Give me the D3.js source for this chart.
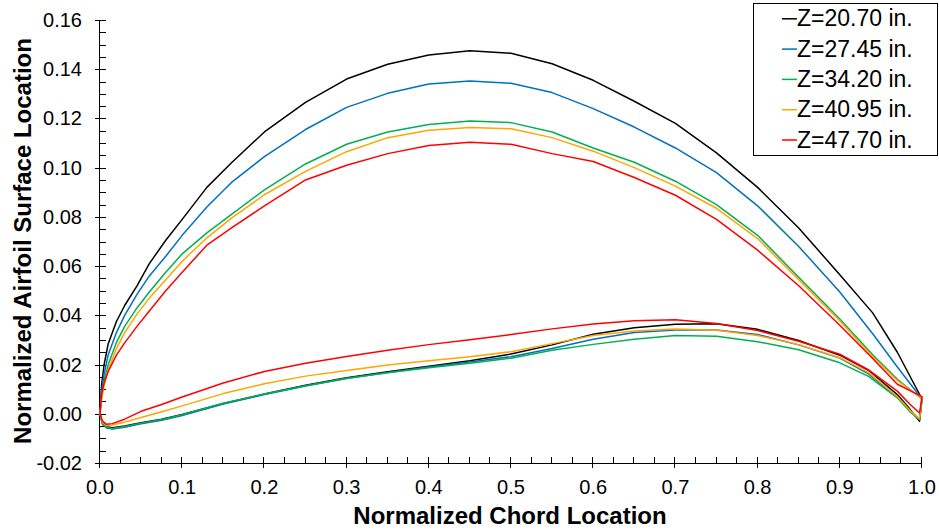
<!DOCTYPE html>
<html>
<head>
<meta charset="utf-8">
<script src="https://cdn.jsdelivr.net/npm/d3@7"></script>
<style>
  html, body { margin: 0; padding: 0; background: #fff; }
  svg { display: block; font-family: "Liberation Sans", Arial, sans-serif; }
</style>
</head>
<body>
<svg id="chart" width="939" height="531"></svg>
<script>
// Chord stations for the suction (upper) and pressure (lower) surfaces
const upperX = [0, 0.002, 0.005, 0.01, 0.02, 0.03, 0.045, 0.06, 0.08, 0.1, 0.13, 0.16, 0.2, 0.25, 0.3,
  0.35, 0.4, 0.45, 0.5, 0.55, 0.6, 0.65, 0.7, 0.75, 0.8, 0.85, 0.9, 0.94, 0.97, 1.0];
const lowerX = [0, 0.003, 0.008, 0.015, 0.03, 0.05, 0.075, 0.1, 0.15, 0.2, 0.25, 0.3, 0.35, 0.4,
  0.45, 0.5, 0.55, 0.6, 0.65, 0.7, 0.75, 0.8, 0.85, 0.9, 0.935, 0.97, 0.985, 0.997];

// Span positions
const seriesNames = ["Z=20.70 in.", "Z=27.45 in.", "Z=34.20 in.", "Z=40.95 in.", "Z=47.70 in."];
const seriesColors = ["#000000", "#0070C0", "#00B050", "#FFA500", "#FF0000"];

// Upper surface heights per span
const upperZ2070 = [0, 0.012, 0.02, 0.0285, 0.0375, 0.044, 0.052, 0.061, 0.0705, 0.079, 0.092, 0.102, 0.1145, 0.1265, 0.136,
  0.142, 0.1458, 0.1475, 0.1465, 0.1422, 0.1355, 0.127, 0.118, 0.106, 0.092, 0.0755, 0.0565, 0.041, 0.025, 0.006];
const upperZ2745 = [0, 0.009, 0.016, 0.024, 0.033, 0.040, 0.0485, 0.056, 0.064, 0.0725, 0.084, 0.094, 0.1045, 0.1155, 0.1245,
  0.1302, 0.134, 0.1352, 0.1343, 0.1305, 0.124, 0.1165, 0.108, 0.098, 0.0845, 0.068, 0.0495, 0.0325, 0.019, 0.006];
const upperZ3420 = [0, 0.007, 0.013, 0.020, 0.029, 0.0355, 0.043, 0.0495, 0.0575, 0.065, 0.0735, 0.081, 0.091, 0.1015, 0.1095,
  0.1145, 0.1175, 0.119, 0.1183, 0.1145, 0.108, 0.1022, 0.0945, 0.085, 0.0725, 0.0555, 0.0385, 0.024, 0.014, 0.006];
const upperZ4095 = [0, 0.006, 0.0115, 0.018, 0.0265, 0.033, 0.0405, 0.047, 0.0545, 0.062, 0.0715, 0.0795, 0.089, 0.0985, 0.1065,
  0.1122, 0.1152, 0.1163, 0.1158, 0.1122, 0.1067, 0.100, 0.0925, 0.0835, 0.0712, 0.0545, 0.0378, 0.0232, 0.0135, 0.0063];
const upperZ4770 = [0, 0.008, 0.0125, 0.0172, 0.0238, 0.0288, 0.0355, 0.0418, 0.050, 0.0575, 0.0685, 0.0755, 0.0845, 0.095, 0.101,
  0.1057, 0.109, 0.1103, 0.1095, 0.1057, 0.1025, 0.096, 0.0888, 0.079, 0.0665, 0.052, 0.036, 0.0225, 0.012, 0.007];

// Lower surface heights per span
const lowerZ2070 = [0, -0.0038, -0.0053, -0.0057, -0.005, -0.0036, -0.0022, -0.0003, 0.0042, 0.008, 0.0116, 0.0146, 0.0171, 0.0193,
  0.0215, 0.0243, 0.028, 0.0323, 0.035, 0.0364, 0.0366, 0.0343, 0.0298, 0.0238, 0.0177, 0.0078, 0.002, -0.003];
const lowerZ2745 = [0, -0.0043, -0.0058, -0.0062, -0.0055, -0.0041, -0.0026, -0.0007, 0.004, 0.0078, 0.0113, 0.0143, 0.0168, 0.019,
  0.021, 0.0232, 0.0265, 0.0303, 0.033, 0.034, 0.034, 0.0322, 0.028, 0.0226, 0.0162, 0.0068, 0.0012, -0.0025];
const lowerZ3420 = [0, -0.004, -0.0055, -0.006, -0.0052, -0.0038, -0.0023, -0.0004, 0.0043, 0.008, 0.0114, 0.0144, 0.0167, 0.0187,
  0.0205, 0.0226, 0.0258, 0.0282, 0.0303, 0.0318, 0.0315, 0.0293, 0.026, 0.0207, 0.0152, 0.0065, 0.001, -0.0022];
const lowerZ4095 = [0, -0.0035, -0.0048, -0.0046, -0.0034, -0.0015, 0.0008, 0.0032, 0.0082, 0.0122, 0.0153, 0.0176, 0.0198, 0.0215,
  0.0232, 0.0252, 0.0285, 0.0318, 0.0336, 0.0344, 0.0339, 0.0318, 0.0281, 0.0228, 0.0167, 0.007, 0.0015, -0.002];
const lowerZ4770 = [0, -0.003, -0.0043, -0.004, -0.0022, 0.001, 0.0038, 0.0068, 0.0125, 0.0172, 0.0205, 0.0233, 0.0258, 0.0281,
  0.0301, 0.0322, 0.0345, 0.0365, 0.0378, 0.0382, 0.0367, 0.0338, 0.0295, 0.0242, 0.0178, 0.0092, 0.004, 0.0003];

const upperSets = [upperZ2070, upperZ2745, upperZ3420, upperZ4095, upperZ4770];
const lowerSets = [lowerZ2070, lowerZ2745, lowerZ3420, lowerZ4095, lowerZ4770];

// Axis ticks
const xTicks = [0, 0.1, 0.2, 0.3, 0.4, 0.5, 0.6, 0.7, 0.8, 0.9, 1.0];
const yTicks = [-0.02, 0, 0.02, 0.04, 0.06, 0.08, 0.10, 0.12, 0.14, 0.16];

const svg = d3.select("#chart");
const plotLeft = 100, plotRight = 922, plotTop = 20, plotBottom = 463;

const x = d3.scaleLinear().domain([0, 1]).range([plotLeft, plotRight]);
const y = d3.scaleLinear().domain([-0.02, 0.16]).range([plotBottom, plotTop]);

// Minor ticks (inside only)
const xMinor = d3.range(0, 1.0001, 0.025).filter(v => Math.abs(v * 10 - Math.round(v * 10)) > 1e-6);
const yMinor = d3.range(-0.02, 0.16001, 0.005).filter(v => Math.abs(v * 50 - Math.round(v * 50)) > 1e-6);

const axisG = svg.append("g").attr("stroke", "#000").attr("stroke-width", 1).attr("shape-rendering", "crispEdges");
axisG.append("line").attr("x1", plotLeft).attr("x2", plotRight).attr("y1", plotBottom + 0.5).attr("y2", plotBottom + 0.5);
axisG.append("line").attr("x1", plotLeft - 0.5).attr("x2", plotLeft - 0.5).attr("y1", plotTop).attr("y2", plotBottom);

axisG.selectAll(".xmaj").data(xTicks).join("line")
  .attr("x1", d => Math.round(x(d)) - 0.5).attr("x2", d => Math.round(x(d)) - 0.5)
  .attr("y1", plotBottom - 6).attr("y2", plotBottom + 5);
axisG.selectAll(".xmin").data(xMinor).join("line")
  .attr("x1", d => Math.round(x(d)) - 0.5).attr("x2", d => Math.round(x(d)) - 0.5)
  .attr("y1", plotBottom - 6).attr("y2", plotBottom);
axisG.selectAll(".ymaj").data(yTicks).join("line")
  .attr("x1", plotLeft - 5).attr("x2", plotLeft + 6)
  .attr("y1", d => Math.round(y(d)) + 0.5).attr("y2", d => Math.round(y(d)) + 0.5);
axisG.selectAll(".ymin").data(yMinor).join("line")
  .attr("x1", plotLeft).attr("x2", plotLeft + 6)
  .attr("y1", d => Math.round(y(d)) + 0.5).attr("y2", d => Math.round(y(d)) + 0.5);

// Tick labels (plain hyphen for negatives)
const fmtX = d => d3.format(".1f")(d).replace("\u2212", "-");
const fmtY = d => d3.format(".2f")(d).replace("\u2212", "-");
svg.append("g").selectAll("text").data(xTicks).join("text")
  .attr("x", d => x(d)).attr("y", 494)
  .attr("text-anchor", "middle").attr("font-size", 20).attr("fill", "#000")
  .text(fmtX);
svg.append("g").selectAll("text").data(yTicks).join("text")
  .attr("x", 82).attr("y", d => y(d) + 7)
  .attr("text-anchor", "end").attr("font-size", 20).attr("fill", "#000")
  .text(fmtY);

// Axis titles
svg.append("text").attr("x", 510).attr("y", 524)
  .attr("text-anchor", "middle").attr("font-size", 24).attr("font-weight", "bold")
  .text("Normalized Chord Location");
svg.append("text").attr("transform", "translate(31,241) rotate(-90)")
  .attr("text-anchor", "middle").attr("font-size", 24).attr("font-weight", "bold")
  .text("Normalized Airfoil Surface Location");

// Airfoil sections: pressure side from leading to trailing edge, then suction side back
const line = d3.line().x(d => x(d[0])).y(d => y(d[1]));
const sections = seriesNames.map((name, i) => {
  const lowerPts = lowerX.map((xv, j) => [xv, lowerSets[i][j]]);
  const upperPts = upperX.map((xv, j) => [xv, upperSets[i][j]]).reverse();
  return { name, color: seriesColors[i], pts: lowerPts.concat(upperPts) };
});

svg.append("g").selectAll("path").data(sections).join("path")
  .attr("d", d => line(d.pts))
  .attr("fill", "none")
  .attr("stroke", d => d.color)
  .attr("stroke-width", 1.5)
  .attr("stroke-linejoin", "round");

// Legend
const lg = svg.append("g");
lg.append("rect").attr("x", 753.5).attr("y", 3.5).attr("width", 184).attr("height", 152)
  .attr("fill", "#fff").attr("stroke", "#000").attr("stroke-width", 1);
const rows = lg.selectAll("g.row").data(sections).join("g").attr("class", "row")
  .attr("transform", (d, i) => `translate(0,${26.3 + i * 30.3})`);
rows.append("line").attr("x1", 782).attr("x2", 797).attr("y1", -7.5).attr("y2", -7.5)
  .attr("stroke", d => d.color).attr("stroke-width", 1.5);
rows.append("text").attr("x", 797).attr("y", 0).attr("font-size", 23).attr("fill", "#000")
  .text(d => d.name);
</script>
</body>
</html>
